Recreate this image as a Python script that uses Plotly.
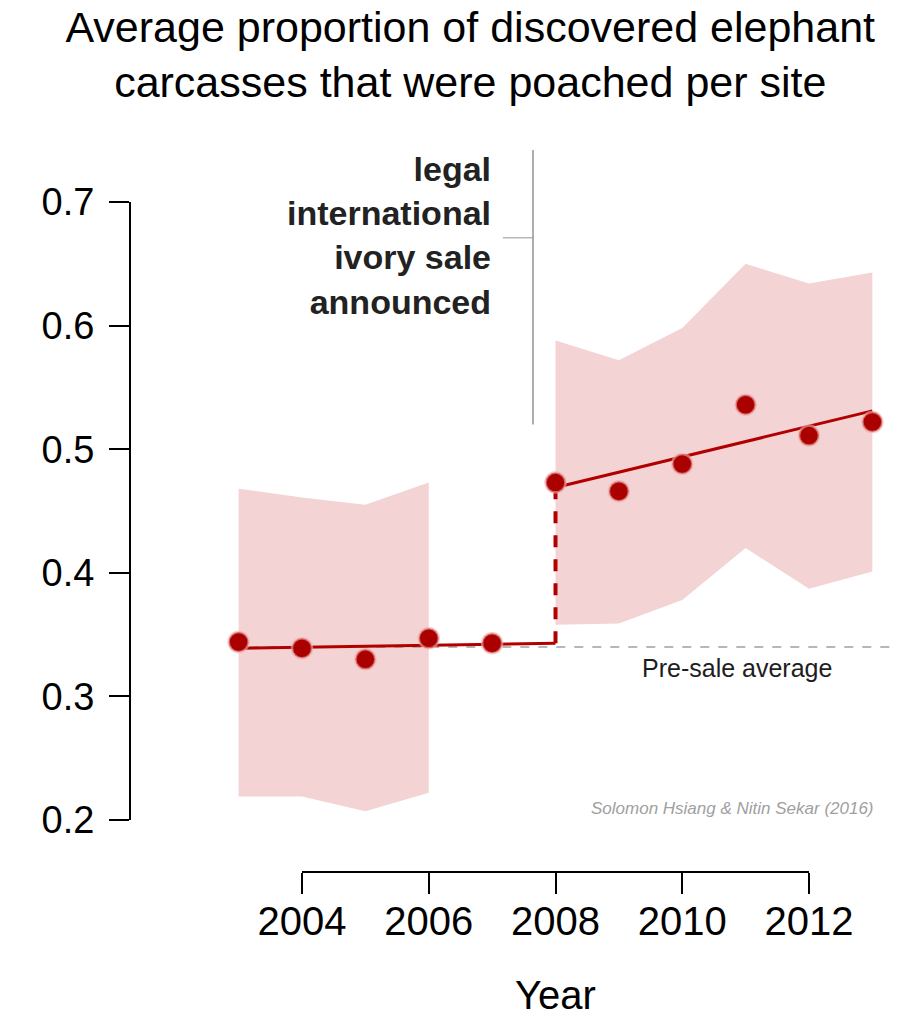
import plotly.graph_objects as go

# ---- data ----
years = [2003, 2004, 2005, 2006, 2007, 2008, 2009, 2010, 2011, 2012, 2013]
proportion = [0.344, 0.339, 0.330, 0.347, 0.343, 0.473, 0.466, 0.488, 0.536, 0.511, 0.522]

pre_band_years = [2003, 2004, 2005, 2006]
pre_band_upper = [0.468, 0.461, 0.455, 0.473]
pre_band_lower = [0.219, 0.219, 0.207, 0.222]

post_band_years = [2008, 2009, 2010, 2011, 2012, 2013]
post_band_upper = [0.588, 0.572, 0.598, 0.650, 0.634, 0.643]
post_band_lower = [0.358, 0.359, 0.378, 0.420, 0.387, 0.401]

pre_trend_years = [2003, 2008]
pre_trend_values = [0.339, 0.343]
post_trend_years = [2008, 2013]
post_trend_values = [0.469, 0.531]

presale_average = 0.340
sale_announced = 2007.645

x_ticks = [2004, 2006, 2008, 2010, 2012]
y_ticks = [0.2, 0.3, 0.4, 0.5, 0.6, 0.7]

BAND = "rgb(243,211,212)"
RED = "rgb(170,0,0)"
LINE_RED = "rgb(178,0,0)"
FONT = "Liberation Sans"

fig = go.Figure()

# confidence bands
fig.add_trace(go.Scatter(
    x=pre_band_years + pre_band_years[::-1],
    y=pre_band_upper + pre_band_lower[::-1],
    fill="toself", fillcolor=BAND, line=dict(width=0), mode="lines",
    hoverinfo="skip", showlegend=False))
fig.add_trace(go.Scatter(
    x=post_band_years + post_band_years[::-1],
    y=post_band_upper + post_band_lower[::-1],
    fill="toself", fillcolor=BAND, line=dict(width=0), mode="lines",
    hoverinfo="skip", showlegend=False))

# pre-sale average
fig.add_trace(go.Scatter(
    x=[2002.9, 2013.33], y=[presale_average, presale_average], mode="lines",
    line=dict(color="rgb(160,160,160)", width=1.5, dash="dash"),
    hoverinfo="skip", showlegend=False))

# trend lines
fig.add_trace(go.Scatter(
    x=pre_trend_years, y=pre_trend_values, mode="lines",
    line=dict(color=LINE_RED, width=3), showlegend=False))
fig.add_trace(go.Scatter(
    x=[post_trend_years[0], post_trend_years[0]],
    y=[pre_trend_values[-1], post_trend_values[0]], mode="lines",
    line=dict(color=LINE_RED, width=4, dash="dash"), showlegend=False))
fig.add_trace(go.Scatter(
    x=post_trend_years, y=post_trend_values, mode="lines",
    line=dict(color=LINE_RED, width=3), showlegend=False))

# points
fig.add_trace(go.Scatter(
    x=years, y=proportion, mode="markers",
    marker=dict(size=20, color=RED, line=dict(color="rgba(240,170,170,0.6)", width=2.5)),
    showlegend=False))

# announcement line
fig.add_trace(go.Scatter(
    x=[sale_announced, sale_announced], y=[0.742, 0.520], mode="lines",
    line=dict(color="rgb(120,120,120)", width=1.2), hoverinfo="skip", showlegend=False))
fig.add_trace(go.Scatter(
    x=[2007.17, sale_announced], y=[0.671, 0.671], mode="lines",
    line=dict(color="rgb(150,150,150)", width=1), hoverinfo="skip", showlegend=False))

# axis lines (R style, spanning first to last tick)
fig.add_shape(type="line", xref="paper", yref="y", x0=0, x1=0,
              y0=y_ticks[0], y1=y_ticks[-1], line=dict(color="black", width=2))
fig.add_shape(type="line", xref="x", yref="paper", x0=x_ticks[0], x1=x_ticks[-1],
              y0=0, y1=0, line=dict(color="black", width=2))

fig.add_annotation(x=2007.01, y=0.673, xref="x", yref="y",
                   text="<b>legal<br>international<br>ivory sale<br>announced</b>",
                   showarrow=False, xanchor="right", yanchor="middle", align="right",
                   font=dict(family=FONT, size=34, color="rgb(34,34,34)"))
fig.add_annotation(x=2010.86, y=0.323, xref="x", yref="y", text="Pre-sale average",
                   showarrow=False, font=dict(family=FONT, size=25, color="rgb(30,30,30)"))
fig.add_annotation(x=2013.05, y=0.2, xref="x", yref="y",
                   text="<i>Solomon Hsiang & Nitin Sekar (2016)</i>",
                   showarrow=False, xanchor="right", yanchor="bottom",
                   font=dict(family=FONT, size=17, color="rgb(160,160,160)"))
fig.add_annotation(x=2008, y=-0.1346, xref="x", yref="paper", text="Year",
                   showarrow=False, yanchor="top",
                   font=dict(family=FONT, size=40, color="black"))

fig.update_layout(
    width=910, height=1016,
    paper_bgcolor="white", plot_bgcolor="white",
    margin=dict(l=122, r=18, t=132, b=152),
    title=dict(text="Average proportion of discovered elephant<br>carcasses that were poached per site",
               x=0.508, xref="container", xanchor="center",
               y=0.967, yref="container", yanchor="top",
               font=dict(family=FONT, size=43, color="black")),
    font=dict(family=FONT),
    xaxis=dict(range=[2001.286, 2013.436], tickvals=x_ticks,
               ticktext=[str(t) for t in x_ticks],
               showgrid=False, zeroline=False, showline=False,
               ticks="outside", ticklen=21, tickwidth=2, tickcolor="black",
               ticklabelstandoff=-7,
               tickfont=dict(family=FONT, size=40, color="black")),
    yaxis=dict(range=[0.15793, 0.75016], tickvals=y_ticks,
               ticktext=["%.1f" % t for t in y_ticks],
               showgrid=False, zeroline=False, showline=False,
               ticks="outside", ticklen=20, tickwidth=2, tickcolor="black",
               ticklabelstandoff=7,
               tickfont=dict(family=FONT, size=38, color="black")),
)

fig.write_html("out.html")
